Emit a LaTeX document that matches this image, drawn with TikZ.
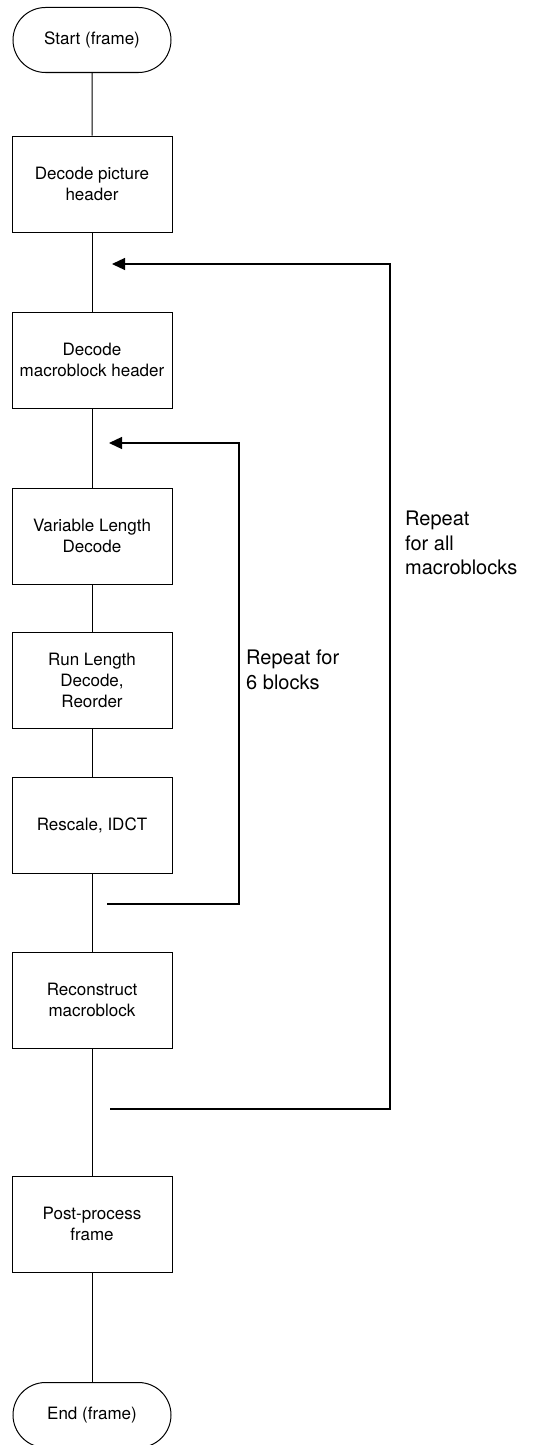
\documentclass[tikz,border=0pt]{standalone}
\usepackage{fontspec}
\setmainfont{TeX Gyre Heros}
\usetikzlibrary{arrows.meta, shapes.misc, positioning}

\begin{document}
\begin{tikzpicture}[x=1pt, y=-1pt,
    every node/.style={font=\fontsize{17}{21}\selectfont},
    stepbox/.style={draw, line width=1pt, minimum width=160pt, minimum height=96pt, align=center, inner sep=0pt},
    terminal/.style={draw, rounded rectangle, line width=1pt, minimum width=158pt, minimum height=65pt, inner sep=0pt},
    flow/.style={line width=1pt},
    loopline/.style={line width=1.2pt, -{Triangle[length=13pt, width=12pt]}},
    note/.style={font=\fontsize{20}{24.5}\selectfont, align=left, anchor=west, inner sep=0pt}]
  \useasboundingbox (0,0) rectangle (533,1445);

  % Draw main column
  \node[terminal] (start) at (92,40) {Start (frame)};
  \node[stepbox] (pichdr) at (92,184) {Decode picture\\header};
  \node[stepbox] (mbhdr) at (92,360) {Decode\\macroblock header};
  \node[stepbox] (vld) at (92,536) {Variable Length\\Decode};
  \node[stepbox] (rld) at (92,680) {Run Length\\Decode,\\Reorder};
  \node[stepbox] (idct) at (92,825) {Rescale, IDCT};
  \node[stepbox] (recon) at (92,1000) {Reconstruct\\macroblock};
  \node[stepbox] (post) at (92,1224) {Post-process\\frame};
  \node[terminal] (end) at (92,1415) {End (frame)};

  % Draw connectors
  \draw[flow] (start) -- (pichdr);
  \draw[flow] (pichdr) -- (mbhdr);
  \draw[flow] (mbhdr) -- (vld);
  \draw[flow] (vld) -- (rld);
  \draw[flow] (rld) -- (idct);
  \draw[flow] (idct) -- (recon);
  \draw[flow] (recon) -- (post);
  \draw[flow] (post) -- (end);

  % Draw block loop
  \coordinate (blkin) at (109,443);
  \coordinate (blkout) at (107,904);
  \coordinate (blkcol) at (239,670);
  \draw[loopline] (blkout) -| (blkcol) |- (blkin);
  \node[note] (blknote) at (246,670) {Repeat for\\6 blocks};

  % Draw macroblock loop
  \coordinate (mbin) at (112,264);
  \coordinate (mbout) at (110,1109);
  \coordinate (mbcol) at (390,700);
  \draw[loopline] (mbout) -| (mbcol) |- (mbin);
  \node[note] (mbnote) at (405,543) {Repeat\\for all\\macroblocks};
\end{tikzpicture}
\end{document}
